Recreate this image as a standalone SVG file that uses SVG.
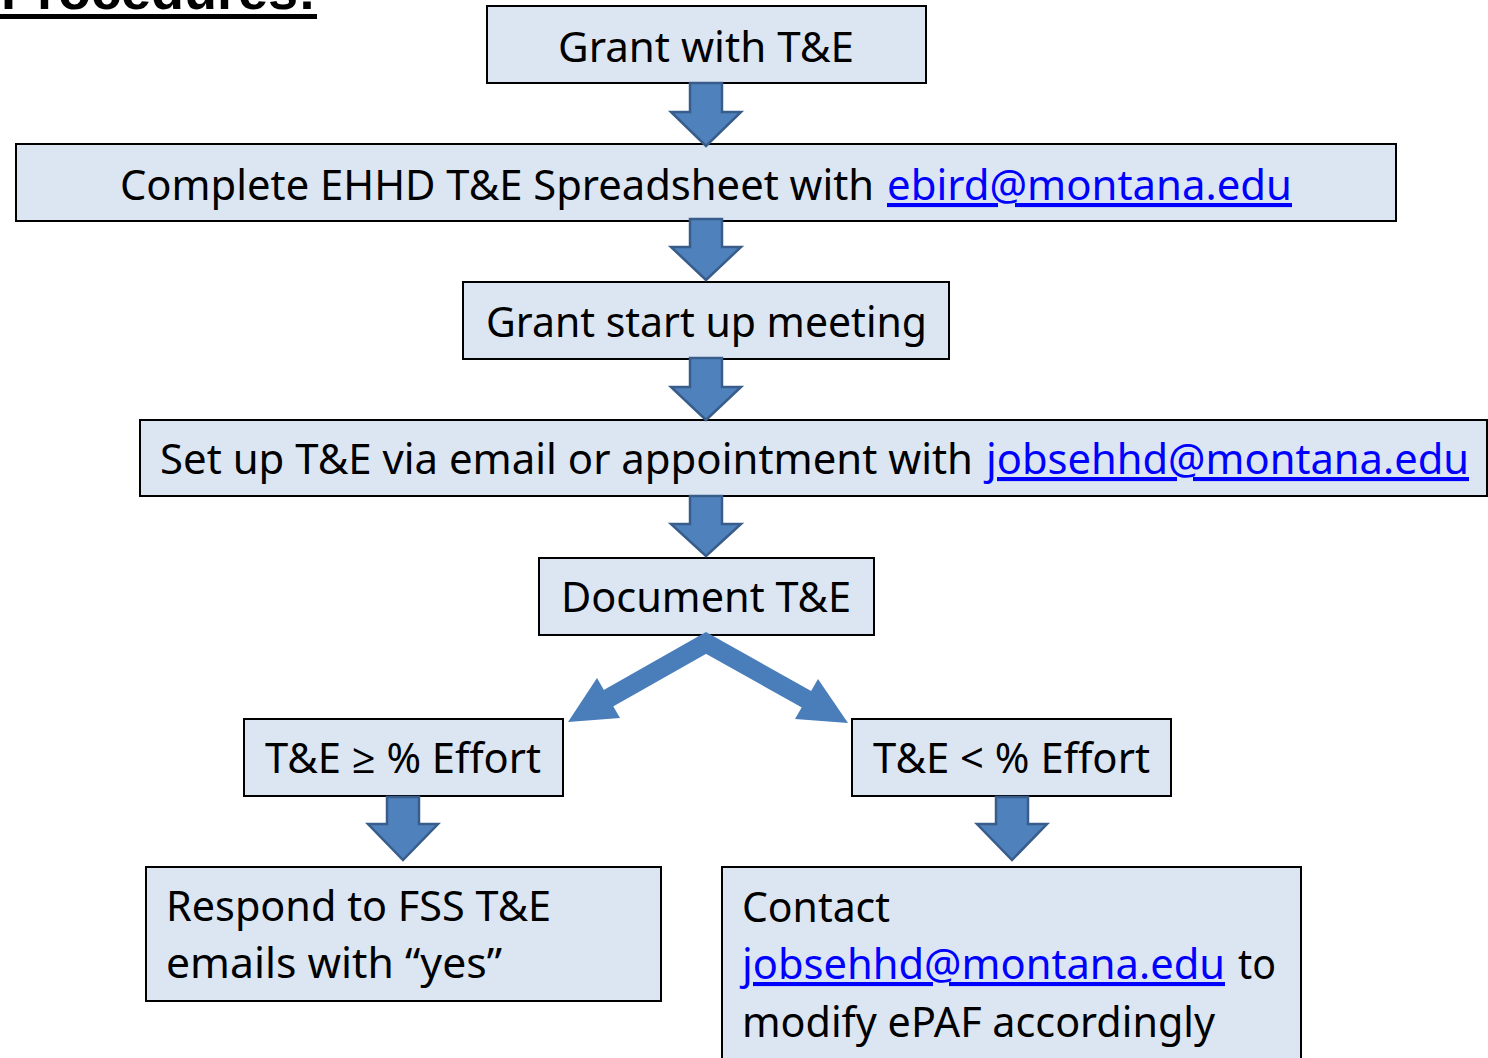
<svg xmlns="http://www.w3.org/2000/svg" width="1488" height="1058" viewBox="0 0 1488 1058">
<style>
.box{fill:#dce6f2;stroke:#000;stroke-width:2}
.t{font-family:"Noto Sans","Open Sans","Liberation Sans",sans-serif;font-size:41px;fill:#000}
.lk{fill:#0000ff;text-decoration:underline}
.va{fill:#4f81bd;stroke:#385d8a;stroke-width:2.5;stroke-linejoin:miter}
.da{fill:#4a7ebb}
</style>
<rect width="1488" height="1058" fill="#fff"/>
<g id="heading">
<text x="316" y="9" text-anchor="end" font-family="'Liberation Sans',sans-serif" font-weight="bold" font-size="54" fill="#000">Procedures:</text>
<rect x="0" y="14" width="317" height="5" fill="#000"/>
</g>
<g id="n1"><rect class="box" x="487" y="6" width="439" height="77"/>
<text class="t" x="558" y="62" textLength="296" lengthAdjust="spacingAndGlyphs">Grant with T&amp;E</text></g>
<g id="n2"><rect class="box" x="16" y="144" width="1380" height="77"/>
<text class="t" x="120" y="200" textLength="754" lengthAdjust="spacingAndGlyphs">Complete EHHD T&amp;E Spreadsheet with</text>
<text class="t lk" x="887" y="200" textLength="405" lengthAdjust="spacingAndGlyphs">ebird@montana.edu</text></g>
<g id="n3"><rect class="box" x="463" y="282" width="486" height="77"/>
<text class="t" x="486" y="337" textLength="441" lengthAdjust="spacingAndGlyphs">Grant start up meeting</text></g>
<g id="n4"><rect class="box" x="140" y="420" width="1347" height="76"/>
<text class="t" x="160" y="474" textLength="813" lengthAdjust="spacingAndGlyphs">Set up T&amp;E via email or appointment with</text>
<text class="t lk" x="986" y="474" textLength="483" lengthAdjust="spacingAndGlyphs">jobsehhd@montana.edu</text></g>
<g id="n5"><rect class="box" x="539" y="558" width="335" height="77"/>
<text class="t" x="561" y="612" textLength="290" lengthAdjust="spacingAndGlyphs">Document T&amp;E</text></g>
<g id="n6"><rect class="box" x="244" y="719" width="319" height="77"/>
<text class="t" x="265" y="773" textLength="276" lengthAdjust="spacingAndGlyphs">T&amp;E ≥ % Effort</text></g>
<g id="n7"><rect class="box" x="852" y="719" width="319" height="77"/>
<text class="t" x="873" y="773" textLength="277" lengthAdjust="spacingAndGlyphs">T&amp;E &lt; % Effort</text></g>
<g id="n8"><rect class="box" x="146" y="867" width="515" height="134"/>
<text class="t" x="166" y="921" textLength="385" lengthAdjust="spacingAndGlyphs">Respond to FSS T&amp;E</text>
<text class="t" x="166" y="978" textLength="336" lengthAdjust="spacingAndGlyphs">emails with “yes”</text></g>
<g id="n9"><rect class="box" x="722" y="867" width="579" height="200"/>
<text class="t" x="742" y="922" textLength="148" lengthAdjust="spacingAndGlyphs">Contact</text>
<text class="t lk" x="742" y="979" textLength="483" lengthAdjust="spacingAndGlyphs">jobsehhd@montana.edu</text>
<text class="t" x="1238" y="979" textLength="38" lengthAdjust="spacingAndGlyphs">to</text>
<text class="t" x="742" y="1037" textLength="473" lengthAdjust="spacingAndGlyphs">modify ePAF accordingly</text></g>
<g id="connectors">
<polygon class="va" points="690,83 722,83 722,112 741,112 706,146 671,112 690,112"/>
<polygon class="va" points="690,219 722,219 722,247 741,247 706,280 671,247 690,247"/>
<polygon class="va" points="690,358 722,358 722,387 741,387 706,420 671,387 690,387"/>
<polygon class="va" points="690,496 722,496 722,524 741,524 706,556 671,524 690,524"/>
<polygon class="va" points="387,797 419,797 419,824 438,824 403,860 368,824 387,824"/>
<polygon class="va" points="996,797 1028,797 1028,824 1047,824 1012,860 977,824 996,824"/>
<polyline points="600,703 706,643 815,704" fill="none" stroke="#4a7ebb" stroke-width="19" stroke-linejoin="miter"/>
<polygon class="da" points="597,678 620,718 568,722"/>
<polygon class="da" points="818,679 795,719 848,723"/>
</g>
</svg>
